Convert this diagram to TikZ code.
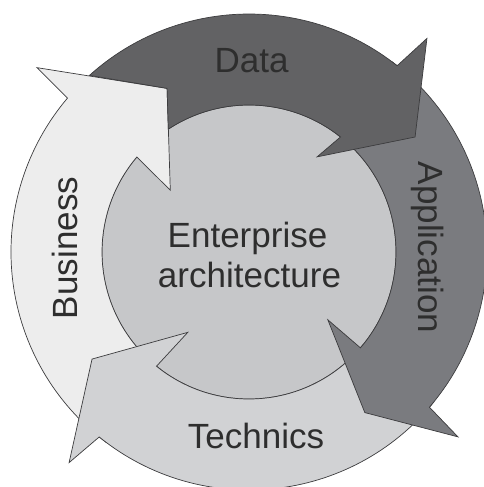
\documentclass[tikz,border=0pt]{standalone}
\usepackage{fontspec}
\setmainfont{Liberation Sans}
\usepackage{tikz}
\definecolor{ink}{HTML}{2E2E2E}
\definecolor{edge}{HTML}{3C3C3E}
\definecolor{dataFill}{HTML}{626264}
\definecolor{appFill}{HTML}{7A7B7F}
\definecolor{techFill}{HTML}{D1D2D4}
\definecolor{bizFill}{HTML}{EDEDED}
\definecolor{coreFill}{HTML}{C6C7C9}
\tikzset{
  band/.style={draw=edge, line width=0.6pt, line join=miter},
  databand/.style={band, fill=dataFill},
  appband/.style={band, fill=appFill},
  techband/.style={band, fill=techFill},
  bizband/.style={band, fill=bizFill},
  lab/.style={text=ink, font=\fontsize{29.9}{34}\selectfont, anchor=base, inner sep=0pt}
}

\begin{document}
\begin{tikzpicture}[x=0.03cm, y=0.03cm]
  \useasboundingbox (-249,-235) rectangle (234,252);

  % core disc
  \draw[band, fill=coreFill] (0,0) circle[radius=147];

  \coordinate (bizTip) at (116.6:183);

  % Business (left), tail under Technics
  \draw[bizband] (233:238) arc[start angle=233, end angle=139.7, radius=238]
    -- (139:281) -- (bizTip) -- (141.9:100) -- (139.7:147)
    arc[start angle=139.7, end angle=233, radius=147] -- cycle;

  % Technics (bottom), tail under Application
  \draw[techband] (-39:238) arc[start angle=-39, end angle=-129, radius=238]
    -- (229.5:277) -- (214.3:190) -- (232.7:101) -- (-129:147)
    arc[start angle=-129, end angle=-39, radius=147] -- cycle;

  % Application (right), tail under Data
  \draw[appband] (53:238) arc[start angle=53, end angle=-40.7, radius=238]
    -- (-41.5:279) -- (-54.2:198) -- (-40.7:104) -- (-40.7:147)
    arc[start angle=-40.7, end angle=53, radius=147] -- cycle;

  % Data (top), tail cut along the Business head
  \draw[databand] (132.1:238) arc[start angle=132.1, end angle=51.5, radius=238]
    -- (50.2:278) -- (34.7:202) -- (54.4:117) -- (51.5:147)
    arc[start angle=51.5, end angle=123.3, radius=147] -- (bizTip) -- cycle;

  % labels
  \node[lab] (dataLbl) at (2.5,179) {Data};
  \node[lab] (entLbl) at (-1.5,4) {Enterprise};
  \node[lab] (archLbl) at (0.5,-36) {architecture};
  \node[lab, rotate=-90] (appLbl) at (169,4.5) {Application};
  \node[lab, rotate=90] (bizLbl) at (-171,4) {Business};
  \node[lab] (techLbl) at (7,-196) {Technics};
\end{tikzpicture}
\end{document}
